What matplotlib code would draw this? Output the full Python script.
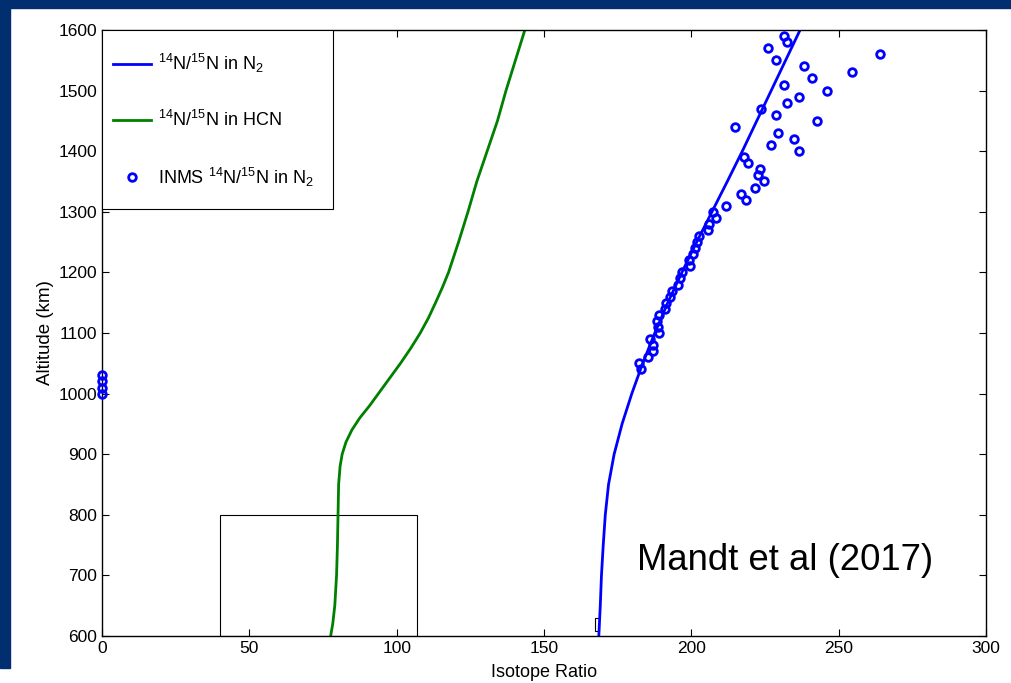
import matplotlib
matplotlib.use('Agg')
import matplotlib.pyplot as plt
from matplotlib.patches import Rectangle

plt.rcParams['font.family'] = ['Liberation Sans', 'DejaVu Sans']
plt.rcParams['mathtext.fontset'] = 'custom'
plt.rcParams['mathtext.rm'] = 'Liberation Sans'
plt.rcParams['mathtext.default'] = 'regular'

# model curve, 14N/15N in N2
n2_alt = [600, 650, 700, 750, 800, 850, 900, 950, 1000, 1050, 1100, 1150, 1200,
          1250, 1300, 1350, 1400, 1450, 1500, 1550, 1600]
n2_ratio = [168.6, 169.1, 169.5, 170.1, 170.8, 171.9, 173.8, 176.5, 179.8, 183.5,
            187.6, 192.0, 196.8, 201.8, 207.0, 212.2, 217.3, 222.2, 227.1, 232.0, 236.9]

# model curve, 14N/15N in HCN
hcn_alt = [600, 620, 650, 700, 750, 800, 850, 880, 900, 920, 940, 960, 980, 1000,
           1020, 1050, 1075, 1100, 1125, 1150, 1175, 1200, 1250, 1300, 1350, 1400,
           1450, 1500, 1550, 1600]
hcn_ratio = [77.6, 78.3, 79.0, 79.6, 79.9, 80.1, 80.3, 80.8, 81.5, 82.8, 84.8, 87.5,
             90.8, 93.8, 96.8, 101.3, 104.8, 108.0, 110.8, 113.2, 115.5, 117.6, 121.0,
             124.2, 127.2, 130.7, 134.2, 137.1, 140.3, 143.5]

# INMS measurements
inms_alt = [1000, 1010, 1020, 1030,
            1040, 1050, 1060, 1070, 1080, 1090, 1100, 1110, 1120, 1130, 1140, 1150,
            1160, 1170, 1180, 1190, 1200, 1210, 1220, 1230, 1240, 1250, 1260, 1270,
            1280, 1290, 1300, 1310, 1320, 1330, 1340, 1350, 1360, 1370, 1380, 1390,
            1400, 1410, 1420, 1430, 1440, 1450, 1460, 1470, 1480, 1490, 1500, 1510,
            1520, 1530, 1540, 1550, 1560, 1570, 1580, 1590]
inms_ratio = [0, 0, 0, 0,
              182.8, 182.3, 185.4, 187.1, 187.1, 186.0, 189.1, 188.8, 188.2, 189.1,
              191.0, 191.4, 192.7, 193.3, 195.6, 196.1, 197.0, 199.5, 199.3, 200.6,
              201.2, 202.0, 202.6, 205.7, 206.0, 208.5, 207.2, 211.7, 218.5, 217.0,
              221.5, 224.5, 222.7, 223.3, 219.1, 218.0, 236.4, 227.1, 235.0, 229.5,
              214.8, 242.6, 228.8, 223.8, 232.5, 236.6, 245.9, 231.5, 240.8, 254.5,
              238.1, 228.9, 264.1, 225.9, 232.5, 231.4]

W, H = 1011, 683
AX_W, AX_H = 884, 606
fig = plt.figure(figsize=(W / 100, H / 100), dpi=100, facecolor='white')

# navy frame strips (top and left) from the slide
navy = '#002e6e'
fig.patches.append(Rectangle((0, 1 - 8 / H), 1, 8 / H, transform=fig.transFigure,
                             color=navy, zorder=0))
fig.patches.append(Rectangle((0, 1 - 668 / H), 10 / W, 668 / H, transform=fig.transFigure,
                             color=navy, zorder=0))

ax = fig.add_axes([102 / W, (H - 636) / H, AX_W / W, AX_H / H])

ax.plot(n2_ratio, n2_alt, color='#0000ff', lw=2.0,
        label=r'$^{14}$N/$^{15}$N in N$_2$')
ax.plot(hcn_ratio, hcn_alt, color='#008000', lw=2.0,
        label=r'$^{14}$N/$^{15}$N in HCN')
ax.plot(inms_ratio, inms_alt, 'o', color='#0000ff', mfc='none', ms=5.5, mew=2.0,
        label=r'INMS $^{14}$N/$^{15}$N in N$_2$', clip_on=False, zorder=5)

# zoom boxes left over on the figure
ax.add_patch(Rectangle((40, 600), 67, 200, fill=False, ec='black', lw=0.8))
ax.add_patch(Rectangle((167.2, 608), 1.4, 22, fill=False, ec='black', lw=0.8))

ax.text(181.5, 725, 'Mandt et al (2017)', fontsize=26.3, va='center', ha='left')

ax.set_xlim(0, 300)
ax.set_ylim(600, 1600)
ax.set_xticks(range(0, 301, 50))
ax.set_yticks(range(600, 1601, 100))
ax.tick_params(direction='in', top=True, right=True, length=5, width=0.8,
               labelsize=12.5, pad=3.5)
for s in ax.spines.values():
    s.set_linewidth(1.0)

ax.set_xlabel('Isotope Ratio', fontsize=13, labelpad=6)
ax.set_ylabel('Altitude (km)', fontsize=13.5, labelpad=3)

# legend frame drawn separately so the entries can sit lower inside it
fw, fh = 231 / AX_W, 179 / AX_H
ax.add_patch(Rectangle((0, 1 - fh), fw, fh, transform=ax.transAxes, fc='white',
                       ec='black', lw=0.8, zorder=6))
leg = ax.legend(loc='upper left', bbox_to_anchor=(0, 1 - 11 / AX_H), fontsize=13,
                frameon=False, labelspacing=1.95, borderpad=0.6,
                handlelength=2.1, handletextpad=0.4, borderaxespad=0)
leg.set_zorder(7)

plt.savefig('out.png', dpi=100, facecolor=fig.get_facecolor())
